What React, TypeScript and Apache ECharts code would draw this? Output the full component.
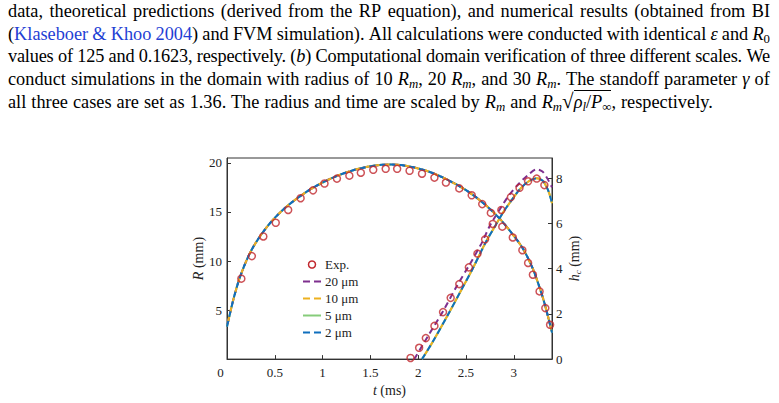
import React, { useEffect, useRef } from "react";
import * as echarts from "echarts";

// ---- data ----
// simulated bubble radius R (mm) vs time t (ms), all grid sizes coincide
const simRTime = [0.0, 0.03, 0.07, 0.12, 0.18, 0.25, 0.33, 0.42, 0.52, 0.63, 0.75, 0.88, 1.02, 1.17, 1.32, 1.47, 1.62, 1.72, 1.82, 1.95, 2.1, 2.25, 2.4, 2.55, 2.7, 2.85, 2.99, 3.1, 3.2, 3.27, 3.33, 3.4];
const simR = [3.3, 4.6, 6.2, 7.9, 9.5, 11.0, 12.3, 13.5, 14.6, 15.6, 16.5, 17.35, 18.1, 18.75, 19.25, 19.6, 19.8, 19.83, 19.78, 19.55, 19.15, 18.55, 17.8, 16.9, 15.75, 14.35, 12.7, 11.2, 9.2, 7.3, 5.4, 2.7];

// simulated jet height h_c (mm): 10, 5 and 2 um grids
const simHTime = [2.04, 2.15, 2.31, 2.45, 2.57, 2.71, 2.8, 2.89, 2.98, 3.06, 3.15, 3.24, 3.3, 3.34, 3.37, 3.4];
const simH = [0, 0.75, 1.95, 3.05, 4.0, 5.2, 5.85, 6.5, 7.05, 7.5, 7.85, 8.0, 7.9, 7.65, 7.35, 6.9];

// simulated jet height h_c (mm): 20 um grid
const simH20Time = [1.96, 2.1, 2.26, 2.4, 2.54, 2.66, 2.75, 2.85, 2.95, 3.05, 3.15, 3.24, 3.3, 3.35, 3.4];
const simH20 = [0, 1.0, 2.12, 3.2, 4.2, 5.1, 5.9, 6.6, 7.25, 7.75, 8.15, 8.4, 8.3, 8.0, 7.6];

// experiment: R
const expRTime = [0.15, 0.26, 0.38, 0.51, 0.64, 0.77, 0.9, 1.02, 1.15, 1.28, 1.4, 1.53, 1.66, 1.78, 1.91, 2.04, 2.17, 2.29, 2.43, 2.56, 2.67, 2.76, 2.88, 2.99, 3.09, 3.15, 3.2, 3.27, 3.33, 3.38];
const expR = [8.2, 10.5, 12.5, 13.9, 15.2, 16.4, 17.2, 17.9, 18.4, 18.7, 19.0, 19.3, 19.4, 19.4, 19.2, 18.9, 18.5, 18.0, 17.4, 16.7, 15.8, 14.9, 13.5, 12.4, 11.1, 9.8, 8.6, 6.9, 5.2, 3.5];

// experiment: h_c
const expHTime = [1.92, 2.01, 2.08, 2.17, 2.26, 2.34, 2.43, 2.53, 2.62, 2.7, 2.78, 2.87, 2.97, 3.06, 3.15, 3.24, 3.32];
const expH = [0.05, 0.5, 0.93, 1.47, 2.08, 2.71, 3.32, 4.06, 4.67, 5.3, 5.98, 6.6, 7.17, 7.58, 7.87, 7.99, 7.7];

const legendNames = ["Exp.", "20 \u03bcm", "10 \u03bcm", "5 \u03bcm", "2 \u03bcm"];
const xTickLabels = ["0", "0.5", "1", "1.5", "2", "2.5", "3"];

const FONT = "'Liberation Serif', 'Times New Roman', serif";
const C_EXP = "#c1272d";
const C20 = "#7e2f8e";
const C10 = "#edb120";
const C5 = "#86cc7a";
const C2 = "#0f6fbd";

const zip = (a: number[], b: number[]) => a.map((v, i) => [v, b[i]]);

function lineSeries(name: string, color: string, dashed: boolean, data: number[][], yAxisIndex: number, dashOffset: number, z: number) {
  return {
    type: "line",
    name,
    data,
    yAxisIndex,
    showSymbol: false,
    symbol: "none",
    smooth: 0.3,
    z,
    lineStyle: {
      color,
      width: 2,
      type: dashed ? [6, 4] : "solid",
      dashOffset,
    },
    itemStyle: { color },
  };
}

export default function App() {
  const ref = useRef<HTMLDivElement>(null);

  useEffect(() => {
    if (!ref.current) return;
    const chart = echarts.init(ref.current, undefined, { renderer: "svg" });
    const rData = zip(simRTime, simR);
    const hData = zip(simHTime, simH);
    const h20Data = zip(simH20Time, simH20);
    const axisColor = "#333";
    const labelStyle = { fontFamily: FONT, fontSize: 13, color: "#222" };
    const nameStyle = { fontFamily: FONT, fontSize: 14, color: "#222" };

    chart.setOption({
      animation: false,
      backgroundColor: "#fff",
      grid: {
        left: 227,
        right: 227,
        top: 158,
        bottom: 41,
        show: true,
        borderColor: axisColor,
        borderWidth: 1,
        backgroundColor: "transparent",
      },
      legend: {
        orient: "vertical",
        left: 297,
        top: 253,
        itemWidth: 18,
        itemHeight: 7,
        itemGap: 4,
        itemStyle: { opacity: 0 },
        textStyle: { fontFamily: FONT, fontSize: 13, color: "#222", padding: [0, 0, 0, -1] },
        data: legendNames.map((n, i) =>
          i === 0
            ? { name: n, icon: "circle", itemStyle: { opacity: 1, color: "transparent", borderColor: C_EXP, borderWidth: 1.5 } }
            : i === 3
            ? { name: n }
            : { name: n, lineStyle: { type: [7, 4], dashOffset: 0 } }
        ),
      },
      xAxis: {
        type: "value",
        min: 0,
        max: 3.4,
        interval: 0.5,
        name: "{i|t} (ms)",
        nameLocation: "middle",
        nameGap: 24,
        nameTextStyle: {
          ...nameStyle,
          rich: { i: { ...nameStyle, fontStyle: "italic" } },
        },
        axisLine: { show: true, lineStyle: { color: axisColor, width: 1 } },
        axisTick: { show: true, inside: true, length: 4, lineStyle: { color: axisColor } },
        splitLine: { show: false },
        axisLabel: {
          ...labelStyle,
          margin: 7,
          formatter: (v: number) => {
            const s = String(v);
            if (!xTickLabels.includes(s)) return "";
            return s === "0" ? "{z|0}" : s;
          },
          rich: { z: { ...labelStyle, padding: [0, 13, 0, 0] } },
        },
      },
      yAxis: [
        {
          type: "value",
          position: "left",
          min: 0,
          max: 20.5,
          interval: 5,
          name: "{i|R} (mm)",
          nameLocation: "middle",
          nameGap: 22,
          nameRotate: 90,
          nameTextStyle: {
            ...nameStyle,
            rich: { i: { ...nameStyle, fontStyle: "italic" } },
          },
          axisLine: { show: true, lineStyle: { color: axisColor } },
          axisTick: { show: true, inside: true, length: 4, lineStyle: { color: axisColor } },
          splitLine: { show: false },
          axisLabel: {
            ...labelStyle,
            margin: 5,
            showMaxLabel: false,
            formatter: (v: number) => (v === 0 ? "" : String(v)),
          },
        },
        {
          type: "value",
          position: "right",
          min: 0,
          max: 8.9,
          interval: 2,
          name: "{i|h}{s|c} (mm)",
          nameLocation: "middle",
          nameGap: 15,
          nameRotate: 90,
          nameTextStyle: {
            ...nameStyle,
            rich: {
              i: { ...nameStyle, fontStyle: "italic" },
              s: { ...nameStyle, fontSize: 9, fontStyle: "italic", padding: [6, 0, 0, 0] },
            },
          },
          axisLine: { show: true, lineStyle: { color: axisColor } },
          axisTick: { show: true, inside: true, length: 4, lineStyle: { color: axisColor } },
          splitLine: { show: false },
          axisLabel: { ...labelStyle, margin: 4, showMaxLabel: false },
        },
      ],
      series: [
        lineSeries(legendNames[3], C5, false, rData, 0, 0, 2),
        lineSeries(legendNames[3], C5, false, hData, 1, 0, 2),
        lineSeries(legendNames[1], C20, true, rData, 0, 7, 3),
        lineSeries(legendNames[1], C20, true, h20Data, 1, 0, 3),
        lineSeries(legendNames[2], C10, true, rData, 0, 5, 4),
        lineSeries(legendNames[2], C10, true, hData, 1, 5, 4),
        lineSeries(legendNames[4], C2, true, rData, 0, 0, 5),
        lineSeries(legendNames[4], C2, true, hData, 1, 0, 5),
        {
          type: "scatter",
          name: legendNames[0],
          yAxisIndex: 0,
          data: zip(expRTime, expR),
          symbol: "circle",
          symbolSize: 7,
          z: 10,
          itemStyle: { color: "transparent", borderColor: C_EXP, borderWidth: 1.5 },
        },
        {
          type: "scatter",
          name: legendNames[0],
          yAxisIndex: 1,
          data: zip(expHTime, expH),
          symbol: "circle",
          symbolSize: 7,
          z: 10,
          itemStyle: { color: "transparent", borderColor: C_EXP, borderWidth: 1.5 },
        },
      ],
    });
    return () => chart.dispose();
  }, []);

  const sub: React.CSSProperties = { fontSize: "0.7em", verticalAlign: "-0.25em", lineHeight: 0 };
  const Rm = (k: string) => (
    <React.Fragment key={k}>
      <i>R</i>
      <i style={sub}>m</i>
    </React.Fragment>
  );
  const row: React.CSSProperties = { display: "flex", justifyContent: "space-between", height: 22.5, whiteSpace: "nowrap" };
  const words = (s: string) => s.split(" ").map((w, i) => <span key={s + i}>{w}</span>);

  return (
    <div style={{ position: "fixed", left: 0, top: 0, width: 779, height: 403, background: "#fff", overflow: "hidden" }}>
      <div ref={ref} style={{ position: "absolute", left: 0, top: 0, width: 779, height: 403 }} />
      <div
        style={{
          position: "absolute",
          left: 8,
          top: 0,
          width: 762,
          fontFamily: FONT,
          fontSize: 18.3,
          lineHeight: "22.5px",
          color: "#000",
          zIndex: 2,
        }}
      >
        <div style={row}>{words("data, theoretical predictions (derived from the RP equation), and numerical results (obtained from BI")}</div>
        <div style={row}>
          <span>
            (<span style={{ color: "#1f3fd4" }}>Klaseboer</span>
          </span>
          <span style={{ color: "#1f3fd4" }}>&amp;</span>
          <span style={{ color: "#1f3fd4" }}>Khoo</span>
          <span>
            <span style={{ color: "#1f3fd4" }}>2004</span>)
          </span>
          {words("and FVM simulation). All calculations were conducted with identical")}
          <i>ε</i>
          <span>and</span>
          <span>
            <i>R</i>
            <span style={sub}>0</span>
          </span>
        </div>
        <div style={{ ...row, letterSpacing: -0.2 }}>
          {words("values of 125 and 0.1623, respectively.")}
          <span>
            (<i>b</i>)
          </span>
          {words("Computational domain verification of three different scales. We")}
        </div>
        <div style={row}>
          {words("conduct simulations in the domain with radius of 10")}
          <span>{Rm("a")},</span>
          <span>20</span>
          <span>{Rm("b")},</span>
          <span>and</span>
          <span>30</span>
          <span>{Rm("c")}.</span>
          {words("The standoff parameter")}
          <i>γ</i>
          <span>of</span>
        </div>
        <div style={{ height: 22.5, whiteSpace: "nowrap", wordSpacing: 0.5 }}>
          all three cases are set as 1.36. The radius and time are scaled by {Rm("d")} and {Rm("e")}
          <span style={{ fontSize: "1.15em" }}>√</span>
          <span style={{ borderTop: "1px solid #000", paddingTop: 1 }}>
            <i>ρ</i>
            <i style={sub}>l</i>/<i>P</i>
            <span style={sub}>∞</span>
          </span>
          , respectively.
        </div>
      </div>
    </div>
  );
}
